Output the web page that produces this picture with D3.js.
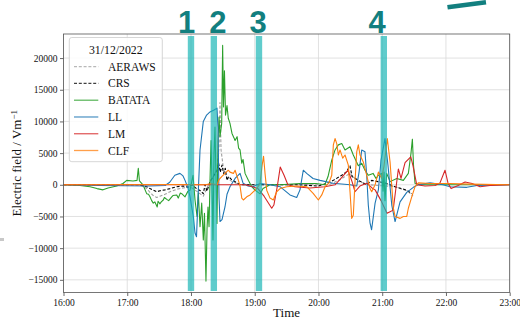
<!DOCTYPE html>
<html><head><meta charset="utf-8">
<script src="https://cdn.jsdelivr.net/npm/d3@7"></script>
<style>
body{margin:0;background:#fff}
svg{display:block}
text{font-family:"Liberation Serif","Times New Roman",serif}
</style>
</head><body><svg id="c" width="520" height="320"></svg>
<script>
// ---- data (minutes after 16:00, electric field in V/m) ----
const xTicks = ["16:00","17:00","18:00","19:00","20:00","21:00","22:00","23:00"];
const yTicks = [-15000,-10000,-5000,0,5000,10000,15000,20000];
const seriesNames = ["AERAWS","CRS","BATATA","LL","LM","CLF"];
const legendTitle = "31/12/2022";
const bandStart = [117, 138.5, 181, 298.5];
const bandEnd   = [123, 144.5, 187, 304.5];
const bandLabels = ["1","2","3","4"];
const bandLabelAt = [115.8, 145.4, 183.1, 295.1];

const aeraws = [[0,0],[72,0],[78.3,-600],[81.4,-1200],[84.5,-1700],[87.7,-2000],[90.8,-1800],[95.5,-1500],[100.3,-1100],[106.6,-700],[112.5,-500],[119.1,-300],[125.2,-1000],[131.6,-1800],[135.1,-500],[139.8,1000],[144.5,2500],[146.4,6000],[147.3,13000],[148.3,5500],[150.2,3000],[153.9,1000],[158.9,500],[166.2,0],[200,0],[250,0],[260.3,800],[269.7,1800],[277.5,500],[288.5,0],[312,-300],[324,-1000],[329,-1800]];
const crs = [[0,0],[72,0],[78.3,-300],[81.4,-600],[84.5,-850],[87.7,-1100],[90.8,-950],[95.5,-800],[100.3,-600],[106.6,-300],[112.5,-200],[117.2,-400],[121,0],[125.2,-600],[128.5,-900],[131.6,-1400],[133.2,0],[135.1,-1000],[137.9,500],[140.7,1200],[144.5,2300],[146,3400],[147.6,2000],[149.2,3100],[150.7,1800],[152.3,2600],[153.9,700],[155.4,1300],[158.9,700],[161.5,500],[166.2,0],[185,0],[222.6,0],[239.6,-200],[247.8,250],[254,700],[261.9,1500],[266,2000],[269.7,3000],[271.6,1300],[277.5,700],[285.4,0],[290.1,700],[296,500],[302.6,300],[312,-300],[323.1,-850],[328,-1400]];
const batata = [[0,0],[15.5,-100],[25,-300],[31.5,-600],[37.2,-800],[41.9,-500],[50.1,-200],[56,200],[59.5,700],[65.4,600],[69.2,700],[70.4,2600],[71.5,600],[74.8,0],[78.3,-1400],[80,-1500],[81.4,-1900],[83,-2500],[84.5,-2900],[86,-2700],[87.7,-3300],[88.2,-3500],[89,-2600],[90.8,-3000],[92,-2700],[93.9,-2400],[95,-2000],[97.2,-2300],[99,-2500],[101.9,-1900],[103,-1700],[106.6,-1600],[108,-2100],[110,-1300],[111.3,-1400],[114.4,-1900],[117.2,-1000],[119.1,-850],[121.9,1500],[123.8,-2400],[125.7,-5000],[126.9,-1300],[128.5,-6600],[130.1,-2900],[131.6,-8700],[132.7,-4500],[134.1,-15200],[135.1,-7000],[136,-3500],[137,-6600],[137.9,700],[138.9,7000],[139.8,0],[140.7,-8700],[141.7,5000],[142.6,9100],[143.6,500],[144.5,-6100],[145.4,7000],[146.4,10700],[147.3,7600],[148.9,9700],[149.8,22000],[150.6,12300],[151.5,18000],[152.5,11000],[153.9,12500],[155.1,10500],[156.7,9700],[158.6,8100],[160.5,7400],[161.5,7000],[163.4,7600],[164.8,5800],[166.2,5500],[167.8,3400],[169,4000],[170.9,1800],[174,700],[177.2,-300],[180.3,-850],[183.1,-1200],[185,-1400],[187.8,-600],[194.4,0],[203.8,0],[222.6,200],[237.7,200],[246,0],[249,1300],[252.5,3900],[255.6,5500],[258.7,6300],[261.9,6500],[265,5500],[269.7,6000],[272.8,4700],[277.5,3000],[280.7,3400],[283.8,2300],[286.9,1500],[291.4,1800],[294.2,1000],[296.4,1500],[299.5,1800],[300.8,-1000],[301.7,2000],[302.6,-2500],[304.2,1800],[307.4,500],[313.7,1000],[319.9,700],[324.6,1800],[327.1,5000],[328.4,7200],[329.5,3000],[330.9,200],[335.6,0],[420,0]];
const ll = [[0,0],[34,-100],[81,-200],[95.6,-100],[100,400],[104.8,1500],[109.6,1800],[112.5,1400],[114.4,700],[117.2,-500],[119.1,-1900],[122.2,-5000],[123.8,-7600],[125.2,-8200],[126.9,-1000],[128.5,5500],[131.6,10000],[134.7,11000],[137.9,11500],[141.7,11800],[144.5,12100],[145.4,9000],[146.4,-2000],[147.3,-5800],[149.2,-5500],[152,-3500],[153.9,-1500],[156.7,-300],[161.5,1000],[166.2,1800],[169,250],[173.7,-200],[178.4,-300],[185,200],[194.4,0],[203.8,-300],[213.2,-1600],[219.5,-2000],[222.6,-800],[225.7,2300],[228.9,1800],[234.9,1000],[241.5,700],[253.7,250],[269.7,0],[276,-200],[278.2,2000],[280.7,5500],[283.8,5200],[285.4,1500],[286.9,-3200],[288.5,-6000],[290,-7100],[293.3,-2900],[296.4,-800],[298.9,3900],[302.6,7300],[305.4,3100],[309,-3200],[312.1,-5800],[316.8,-2700],[323.1,-1200],[329.3,-400],[333.7,0],[345,300],[357.3,0],[363.8,-300],[379.6,-400],[389.3,-100],[420,0]];
const lm = [[0,0],[171,0],[175.6,-200],[183,-600],[188.8,-1800],[196,-3700],[198,-3200],[201,-500],[204,2800],[207.6,1500],[211.2,0],[217.8,-300],[231.9,-500],[246,-300],[255.6,0],[262.2,1200],[267.8,2300],[271.6,500],[274.4,-1100],[279,-200],[285.4,250],[290.4,-500],[293.3,-800],[298.9,-2500],[304.5,-4500],[307.4,-4250],[310.3,-4000],[315.2,2500],[317.7,1000],[321.5,3500],[326.9,4400],[329,3000],[332.5,0],[340.3,-200],[349.7,-100],[354.4,300],[359.1,2300],[361.9,300],[364.8,-600],[371.4,-100],[378,450],[384.6,200],[392.1,-300],[401.5,-100],[420,0]];
const clf = [[0,0],[100,50],[133.2,0],[139.8,200],[144.5,0],[146.4,800],[148.9,1300],[152,1800],[155.1,2300],[156.7,2000],[159.9,1800],[161.5,2300],[164.6,700],[166.2,-200],[167.8,-2100],[169.3,-2400],[172.5,-1900],[175.6,-1600],[181.9,-600],[185,200],[186.9,3000],[188.3,4500],[189.7,1800],[191.3,-850],[194.4,-2100],[197.5,-2400],[200.7,-1100],[203.8,-600],[210.1,-300],[219.5,-200],[228.9,-300],[235.2,-1400],[239.9,-2400],[243.1,-1600],[246.2,-300],[249.9,300],[252.5,1500],[254,6300],[255.6,7300],[257.2,6500],[258.7,4700],[260.3,5500],[262.8,4200],[265,4700],[268.1,3100],[269.7,-1100],[271.3,-5300],[272.8,-4800],[274.4,500],[276,5200],[277.5,6300],[279.1,4700],[282.2,3600],[285.4,1500],[288.5,-600],[290.1,-1100],[293.3,0],[296.4,2000],[299.5,1000],[301.7,3000],[304.8,7300],[307.4,3600],[310.5,-3700],[312.1,-5000],[316.8,-5300],[319.9,-5000],[323.1,-5000],[324.6,-3700],[327.8,-1900],[330.9,-300],[334,300],[345,200],[363.8,200],[382.7,100],[420,0]];

const seriesData = [aeraws, crs, batata, ll, lm, clf];
const seriesColor = ["#a0a0a0","#000000","#2ca02c","#1f77b4","#d62728","#ff7f0e"];
const seriesDash  = ["3,1.8","3,1.8",null,null,null,null];

// ---- drawing ----
const svg = d3.select("#c");
svg.append("rect").attr("width",520).attr("height",320).attr("fill","#fff");

const base = new Date(2022,11,31,16,0);
const toDate = m => new Date(base.getTime() + m*60000);
const parseT = s => { const [h,mm] = s.split(":").map(Number); return toDate((h-16)*60+mm); };

const L = 63.5, R = 509.7, T = 34, B = 292.5;
const x = d3.scaleTime().domain([toDate(0), toDate(420)]).range([L, R]);
const y = d3.scaleLinear().domain([-17000, 23800]).range([B, T]);
const xTickDates = xTicks.map(parseT);

// grid
const grid = svg.append("g").attr("stroke","#d9d9d9").attr("stroke-width",0.8);
grid.selectAll("line.v").data(xTickDates).join("line")
  .attr("x1",d=>x(d)).attr("x2",d=>x(d)).attr("y1",T).attr("y2",B);
grid.selectAll("line.h").data(yTicks).join("line")
  .attr("x1",L).attr("x2",R).attr("y1",d=>y(d)).attr("y2",d=>y(d));

// clip
svg.append("defs").append("clipPath").attr("id","clip")
  .append("rect").attr("x",L).attr("y",T).attr("width",R-L).attr("height",B-T);

const line = d3.line().x(d=>x(toDate(d[0]))).y(d=>y(d[1]));
const lines = svg.append("g").attr("clip-path","url(#clip)");
seriesData.forEach((s,i)=>{
  lines.append("path").datum(s).attr("d",line)
    .attr("fill","none").attr("stroke",seriesColor[i]).attr("stroke-width",1.1)
    .attr("stroke-linejoin","round")
    .attr("stroke-dasharray",seriesDash[i]);
});

// bands
svg.append("g").selectAll("rect").data(bandStart).join("rect")
  .attr("x",(d)=>x(toDate(d)))
  .attr("width",(d,i)=>x(toDate(bandEnd[i]))-x(toDate(d)))
  .attr("y",36).attr("height",255)
  .attr("fill","rgb(20,180,180)").attr("fill-opacity",0.68);

// band labels
svg.append("g").selectAll("text").data(bandLabels).join("text")
  .attr("x",(d,i)=>x(toDate(bandLabelAt[i]))).attr("y",32.5)
  .attr("text-anchor","middle")
  .style("font-family","'Liberation Sans',Arial,sans-serif")
  .style("font-weight","bold").style("font-size","31px")
  .attr("fill","#127f7f").text(d=>d);

// decorative stroke top-right
svg.append("line").attr("x1",447.5).attr("y1",7.3).attr("x2",486).attr("y2",2.3)
  .attr("stroke","#127f7f").attr("stroke-width",4.5);
svg.append("rect").attr("x",0).attr("y",238).attr("width",4).attr("height",3).attr("fill","#c8c8c8");

// axes
const fmtY = d => d < 0 ? "\u2212" + Math.abs(d) : String(d);
const yAx = svg.append("g").attr("transform",`translate(${L},0)`)
  .call(d3.axisLeft(y).tickValues(yTicks).tickSize(3.5).tickPadding(2.5).tickFormat(fmtY));
const xAx = svg.append("g").attr("transform",`translate(0,${B})`)
  .call(d3.axisBottom(x).tickValues(xTickDates).tickSize(3.5).tickPadding(3).tickFormat(d3.timeFormat("%H:%M")));
[yAx,xAx].forEach(g=>{
  g.attr("font-family",null);
  g.select(".domain").remove();
  g.selectAll(".tick line").attr("stroke","#444").attr("stroke-width",0.8);
  g.selectAll(".tick text").attr("fill","#111")
    .style("font-family","'Liberation Serif','Times New Roman',serif").style("font-size","9.5px");
});

// spines
svg.append("rect").attr("x",L).attr("y",T).attr("width",R-L).attr("height",B-T)
  .attr("fill","none").attr("stroke","#555").attr("stroke-width",0.8);

// axis labels
svg.append("text").attr("x",(L+R)/2).attr("y",317).attr("text-anchor","middle")
  .style("font-size","13px").attr("fill","#111").text("Time");
const yl = svg.append("text").attr("transform",`translate(21,${(T+B)/2}) rotate(-90)`)
  .attr("text-anchor","middle").style("font-size","13px").attr("fill","#111");
yl.append("tspan").text("Electric field / Vm");
yl.append("tspan").attr("dy","-0.45em").style("font-size","9px").text("\u22121");

// legend
const lg = svg.append("g");
lg.append("rect").attr("x",69.3).attr("y",37.5).attr("width",93).attr("height",124.2)
  .attr("rx",2.5).attr("fill","#fff").attr("fill-opacity",0.85)
  .attr("stroke","#cccccc").attr("stroke-width",0.8);
lg.append("text").attr("x",115.8).attr("y",53.5).attr("text-anchor","middle")
  .style("font-size","11.8px").attr("fill","#111").text(legendTitle);
seriesNames.forEach((n,i)=>{
  const by = 70.7 + i*16.76;
  lg.append("line").attr("x1",74).attr("x2",98.3).attr("y1",by-4).attr("y2",by-4)
    .attr("stroke",seriesColor[i]).attr("stroke-width",1.3).attr("stroke-opacity",0.75)
    .attr("stroke-dasharray",seriesDash[i]);
  lg.append("text").attr("x",108).attr("y",by).style("font-size","11.5px")
    .attr("fill","#111").text(n);
});
</script>
</body></html>
